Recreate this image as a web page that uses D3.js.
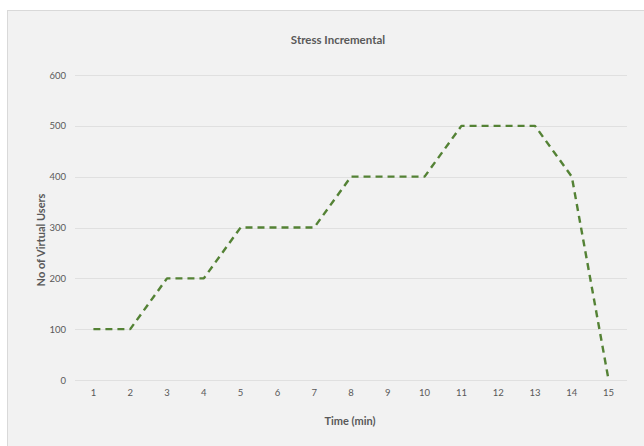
<!DOCTYPE html>
<html>
<head>
<meta charset="utf-8">
<script src="https://cdn.jsdelivr.net/npm/d3@7"></script>
<style>
  html, body { margin: 0; padding: 0; background: #ffffff; }
  svg { display: block; font-family: Lato, "Open Sans", sans-serif; }
</style>
</head>
<body>
<svg id="chart" width="644" height="446"></svg>
<script>
// Virtual users per minute of the incremental stress run
const minutes = [1, 2, 3, 4, 5, 6, 7, 8, 9, 10, 11, 12, 13, 14, 15];
const users = [100, 100, 200, 200, 300, 300, 300, 400, 400, 400, 500, 500, 500, 400, 0];
const yTicks = [0, 100, 200, 300, 400, 500, 600];

const svg = d3.select("#chart");
const W = 644, H = 446;

// Chart area panel
svg.append("rect")
  .attr("x", 7.5).attr("y", 10.5)
  .attr("width", W).attr("height", H)
  .attr("fill", "#f2f2f2")
  .attr("stroke", "#d9d9d9");

const plot = { left: 75, right: 627, top: 75, bottom: 380 };

const x = d3.scaleBand()
  .domain(minutes)
  .range([plot.left, plot.right]);

const y = d3.scaleLinear()
  .domain([0, 600])
  .range([plot.bottom, plot.top]);

// Horizontal gridlines
svg.append("g")
  .selectAll("line")
  .data(yTicks)
  .join("line")
  .attr("x1", plot.left).attr("x2", plot.right)
  .attr("y1", d => Math.round(y(d)) + 0.5)
  .attr("y2", d => Math.round(y(d)) + 0.5)
  .attr("stroke", "#e0e0e0")
  .attr("stroke-width", 1);

// Y axis labels
const yAxis = d3.axisLeft(y).tickValues(yTicks).tickSize(0).tickPadding(9);
svg.append("g")
  .attr("transform", `translate(${plot.left},0)`)
  .call(yAxis)
  .call(g => g.select(".domain").remove())
  .call(g => g.selectAll("text")
    .attr("fill", "#595959")
    .style("font-size", "9.5px")
    .style("font-family", "Lato, 'Open Sans', sans-serif"));

// X axis labels
const xAxis = d3.axisBottom(x).tickSize(0).tickPadding(9);
svg.append("g")
  .attr("transform", `translate(0,${plot.bottom})`)
  .call(xAxis)
  .call(g => g.select(".domain").remove())
  .call(g => g.selectAll("text")
    .attr("fill", "#595959")
    .style("font-size", "9.5px")
    .style("font-family", "Lato, 'Open Sans', sans-serif"));

// Dashed series line
const line = d3.line()
  .x((d, i) => x(minutes[i]) + x.bandwidth() / 2)
  .y(d => y(d));

svg.append("path")
  .datum(users)
  .attr("d", line)
  .attr("fill", "none")
  .attr("stroke", "#548235")
  .attr("stroke-width", 2.4)
  .attr("stroke-dasharray", "7,5")
  .attr("stroke-linejoin", "round");

// Title
svg.append("text")
  .attr("x", 338).attr("y", 44)
  .attr("text-anchor", "middle")
  .attr("fill", "#595959")
  .style("font-size", "11.5px")
  .style("font-weight", "bold")
  .text("Stress Incremental");

// Axis titles
svg.append("text")
  .attr("x", 350).attr("y", 425)
  .attr("text-anchor", "middle")
  .attr("fill", "#595959")
  .style("font-size", "11px")
  .style("font-weight", "bold")
  .text("Time (min)");

svg.append("text")
  .attr("transform", "translate(45,240) rotate(-90)")
  .attr("text-anchor", "middle")
  .attr("fill", "#595959")
  .style("font-size", "11px")
  .style("font-weight", "bold")
  .text("No of Virtual Users");
</script>
</body>
</html>
